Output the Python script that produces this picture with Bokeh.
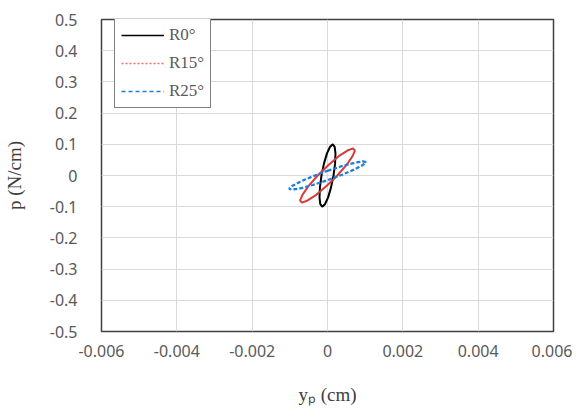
from bokeh.plotting import figure
from bokeh.models import Range1d, FixedTicker, Legend, LegendItem, NumeralTickFormatter
from bokeh.embed import file_html
from bokeh.resources import INLINE

# ---- data ----
x_ticks = [-0.006, -0.004, -0.002, 0, 0.002, 0.004, 0.006]
x_tick_labels = ["-0.006", "-0.004", "-0.002", "0", "0.002", "0.004", "0.006"]
y_ticks = [-0.5, -0.4, -0.3, -0.2, -0.1, 0, 0.1, 0.2, 0.3, 0.4, 0.5]
y_tick_labels = ["-0.5", "-0.4", "-0.3", "-0.2", "-0.1", "0", "0.1", "0.2", "0.3", "0.4", "0.5"]

series_names = ["R0°", "R15°", "R25°"]

r0_x = [0.000160, 0.000201, 0.000212, 0.000191, 0.000140, 0.000068, -0.000014, -0.000094,
        -0.000160, -0.000201, -0.000212, -0.000191, -0.000140, -0.000068, 0.000014, 0.000094, 0.000160]
r0_y = [0.000, 0.038, 0.071, 0.092, 0.100, 0.092, 0.071, 0.038,
        0.000, -0.038, -0.071, -0.092, -0.100, -0.092, -0.071, -0.038, 0.000]

r15_x = [0.000260, 0.000500, 0.000665, 0.000728, 0.000680, 0.000528, 0.000297, 0.000020,
         -0.000260, -0.000500, -0.000665, -0.000728, -0.000680, -0.000528, -0.000297, -0.000020, 0.000260]
r15_y = [0.000, 0.033, 0.062, 0.080, 0.087, 0.080, 0.062, 0.033,
         0.000, -0.033, -0.062, -0.080, -0.087, -0.080, -0.062, -0.033, 0.000]

r25_x = [0.000000, 0.000391, 0.000721, 0.000942, 0.001020, 0.000942, 0.000721, 0.000391,
         0.000000, -0.000391, -0.000721, -0.000942, -0.001020, -0.000942, -0.000721, -0.000391, 0.000000]
r25_y = [0.0150, 0.0304, 0.0410, 0.0454, 0.0430, 0.0340, 0.0198, 0.0026,
         -0.0150, -0.0304, -0.0410, -0.0454, -0.0430, -0.0340, -0.0198, -0.0026, 0.0150]

nan = float("nan")

# ---- figure ----
p = figure(width=572, height=407,
           min_border_left=99, min_border_right=19, min_border_top=19, min_border_bottom=72,
           x_range=Range1d(-0.006, 0.006), y_range=Range1d(-0.5, 0.5),
           output_backend="svg", toolbar_location=None)
p.background_fill_color = "white"
p.border_fill_color = "white"
p.outline_line_color = "#404040"
p.outline_line_width = 1.5

for ax in (p.xaxis[0], p.yaxis[0]):
    ax.axis_line_color = None
    ax.major_tick_line_color = None
    ax.minor_tick_line_color = None
    ax.major_label_text_font = "Noto Sans"
    ax.major_label_text_font_size = "16px"
    ax.major_label_text_color = "#595959"
    ax.axis_label_text_font = "Liberation Serif"
    ax.axis_label_text_font_size = "19px"
    ax.axis_label_text_font_style = "normal"
    ax.axis_label_text_color = "#404040"

p.xaxis.ticker = FixedTicker(ticks=x_ticks)
p.yaxis.ticker = FixedTicker(ticks=y_ticks)
p.xaxis.formatter = NumeralTickFormatter(format="0.[000]")
p.yaxis.formatter = NumeralTickFormatter(format="0.[0]")
p.xaxis.major_label_overrides = {t: s for t, s in zip(x_ticks, x_tick_labels)}
p.yaxis.major_label_overrides = {t: s for t, s in zip(y_ticks, y_tick_labels)}
p.xaxis.major_label_standoff = 7
p.yaxis.major_label_standoff = 18
p.xaxis.axis_label = "yₚ (cm)"
p.yaxis.axis_label = "p (N/cm)"
p.xaxis.axis_label_standoff = 24
p.yaxis.axis_label_standoff = 22

p.xgrid.ticker = FixedTicker(ticks=x_ticks)
p.ygrid.ticker = FixedTicker(ticks=y_ticks)
p.xgrid.grid_line_color = "#d9d9d9"
p.ygrid.grid_line_color = "#d9d9d9"

# ---- curves ----
p.line(r0_x, r0_y, line_color="black", line_width=2)
p.line(r15_x, r15_y, line_color="#d93a3a", line_width=2)
p.line(r25_x, r25_y, line_color="#1f7fd6", line_width=2.25, line_dash="4 2")

# ---- legend (styled as in the reference legend) ----
lg0 = p.line([nan], [nan], line_color="black", line_width=1.5)
lg1 = p.line([nan], [nan], line_color="#f06a6a", line_width=1.5, line_dash="2 2")
lg2 = p.line([nan], [nan], line_color="#1f7fd6", line_width=1.5, line_dash="4 3")
legend = Legend(items=[LegendItem(label=series_names[0], renderers=[lg0]),
                       LegendItem(label=series_names[1], renderers=[lg1]),
                       LegendItem(label=series_names[2], renderers=[lg2])],
                location=(13, 223))
legend.label_text_font = "Liberation Serif"
legend.label_text_font_size = "17px"
legend.label_text_color = "#595959"
legend.glyph_width = 43
legend.glyph_height = 20
legend.label_height = 20
legend.label_width = 20
legend.label_standoff = 5
legend.spacing = 8
legend.padding = 6
legend.margin = 0
legend.border_line_color = "black"
legend.border_line_width = 1
legend.background_fill_color = "white"
legend.background_fill_alpha = 1
p.add_layout(legend)

open("out.html", "w").write(file_html(p, INLINE))
